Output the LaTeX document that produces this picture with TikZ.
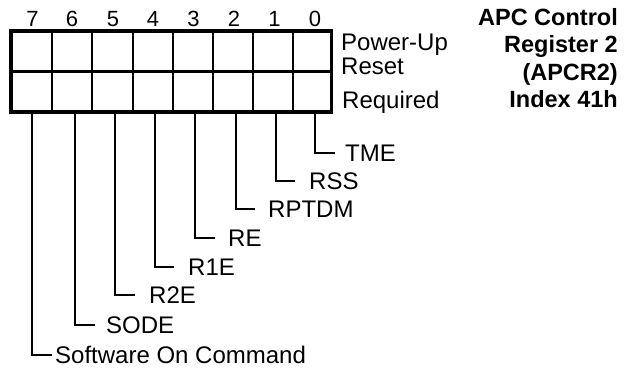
\documentclass[tikz,border=0pt]{standalone}
\usepackage{fontspec}
\setmainfont{Liberation Sans}
\begin{document}
\begin{tikzpicture}[x=1pt,y=-1pt,
  thickline/.style={line width=3.4pt},
  thinline/.style={line width=1.3pt},
  leader/.style={line width=1.3pt},
  bitnum/.style={font=\fontsize{22}{26}\selectfont, inner sep=0pt, anchor=base},
  lbl/.style={font=\fontsize{24}{28}\selectfont, anchor=west, inner ysep=0pt, text height=17pt, text depth=0pt},
  side/.style={font=\fontsize{24}{28}\selectfont, anchor=base west, inner sep=0pt},
  ttl/.style={font=\fontsize{23.5}{28}\selectfont\bfseries, anchor=base east, inner sep=0pt}]
\useasboundingbox (0,0) rectangle (631,371);
% register frame
\coordinate (TL) at (11,31);
\coordinate (BR) at (331.5,112);
\foreach \x in {52,92,133,173,213,253,293}{
  \draw[thinline] (\x,31) -- (\x,112);
}
\draw[thickline] (TL) rectangle (BR);
\draw[thickline] (11,71.5) -- (331.5,71.5);
% bit numbers
\foreach \i/\x in {7/32.5,6/72,5/113,4/153,3/193.5,2/234,1/274.5,0/315}{
  \node[bitnum] (n\i) at (\x,27) {\i};
}
% side labels
\node[side] (pu) at (341,51) {Power-Up};
\node[side] (rs) at (341,75) {Reset};
\node[side] (rq) at (342,109) {Required};
% title
\node[ttl] (t1) at (618,26) {APC Control};
\node[ttl] (t2) at (618,53) {Register 2};
\node[ttl] (t3) at (618,80.5) {(APCR2)};
\node[ttl] (t4) at (618,108) {Index 41h};
% leader tops
\foreach \i/\x in {7/32,6/75,5/115,4/155,3/195,2/236,1/276,0/315}{
  \coordinate (s\i) at (\x,112);
}
% labels
\node[lbl, inner xsep=10pt] (l0) at (335,153) {TME};
\node[lbl, inner xsep=14pt] (l1) at (295,181) {RSS};
\node[lbl, inner xsep=13pt] (l2) at (255,209) {RPTDM};
\node[lbl, inner xsep=13pt] (l3) at (215,238) {RE};
\node[lbl, inner xsep=14pt] (l4) at (174,267) {R1E};
\node[lbl, inner xsep=14pt] (l5) at (135,295) {R2E};
\node[lbl, inner xsep=11pt] (l6) at (95,325) {SODE};
\node[lbl, inner xsep=3pt] (l7) at (52,355) {Software On Command};
\foreach \i in {0,...,7}{
  \draw[leader] (s\i) |- (l\i.west);
}
\end{tikzpicture}
\end{document}
